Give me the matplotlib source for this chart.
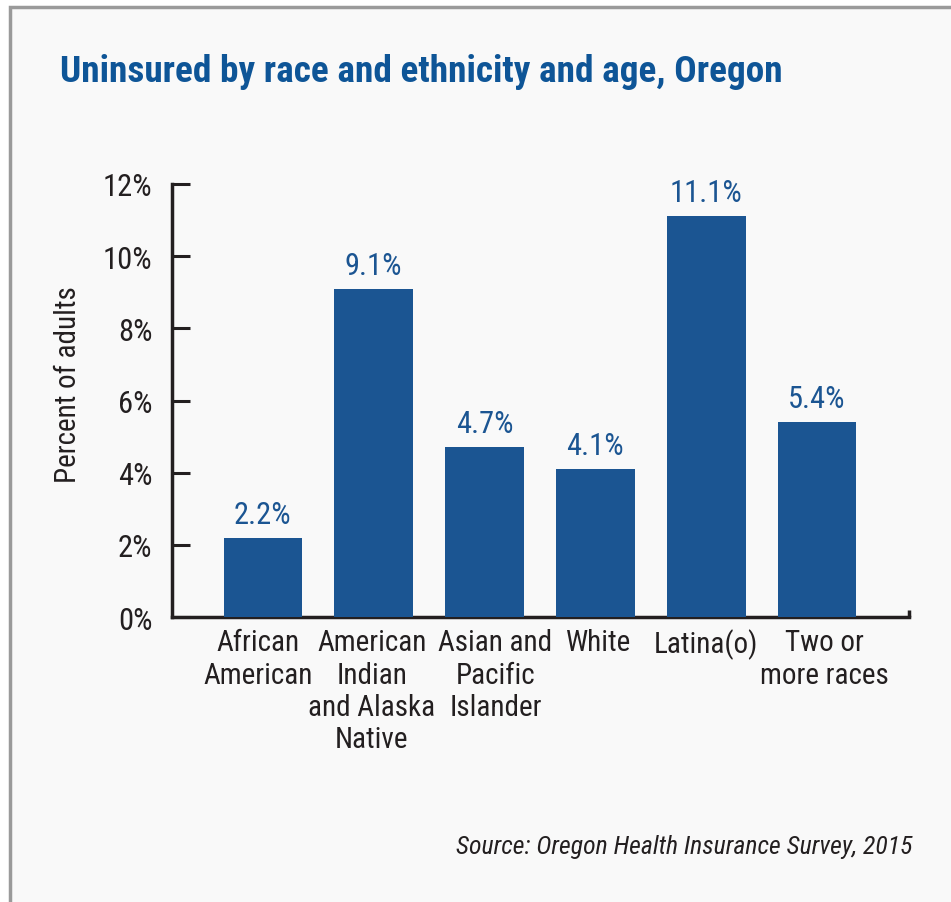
import matplotlib.pyplot as plt
import matplotlib.transforms as mtransforms
from matplotlib.patches import Rectangle
from matplotlib import font_manager

categories = ["African\nAmerican", "American\nIndian\nand Alaska\nNative", "Asian and\nPacific\nIslander",
              "White", "Latina(o)", "Two or\nmore races"]
values = [2.2, 9.1, 4.7, 4.1, 11.1, 5.4]
yticks = [0, 2, 4, 6, 8, 10, 12]
# small horizontal nudges of the category labels (pixels), as in the original
label_shift = [-5, -2, 11, 3, 0, 7]

# pick a narrow sans if one is installed
names = {f.name for f in font_manager.fontManager.ttflist}
font = "DejaVu Sans"
for cand in ["Liberation Sans Narrow", "Roboto Condensed", "Open Sans Condensed", "Noto Sans Condensed"]:
    if cand in names:
        font = cand
        break
plt.rcParams['font.family'] = [font, 'DejaVu Sans']
plt.rcParams['font.stretch'] = 'condensed'

blue = "#1b5592"
title_blue = "#0e5597"
text_c = "#231f20"

fig = plt.figure(figsize=(9.51, 9.03), dpi=100)
fig.patch.set_facecolor("white")
fig.patches.append(Rectangle((10/951, -0.1), 1.2, (903-8)/903 + 0.1, transform=fig.transFigure,
                             facecolor="#f9f9f9", edgecolor="#9a9a9a", linewidth=2.5, zorder=-5))

ax = fig.add_axes([172/951, 1-618/903, (909-172)/951, (618-185)/903])
ax.set_facecolor("none")
x = range(len(values))
ax.bar(x, values, width=0.71, color=blue, zorder=3)
for xi, v in zip(x, values):
    ax.text(xi, v + 0.25, f"{v:.1f}%", ha="center", va="bottom", fontsize=22, color=blue)

ax.set_xlim(-0.82, 5.83)
ax.set_ylim(0, 12)
ax.set_yticks(yticks)
ax.set_yticklabels([f"{t}%" for t in yticks], fontsize=22, color=text_c)
ax.tick_params(axis="y", direction="in", length=13, width=2.2, pad=14, color=text_c)
ax.set_xticks(list(x))
ax.set_xticklabels(categories, fontsize=21, color=text_c, linespacing=1.2, va="top")
ax.tick_params(axis="x", length=0, pad=8)
for lab, dx in zip(ax.get_xticklabels(), label_shift):
    lab.set_transform(lab.get_transform() + mtransforms.ScaledTranslation(dx / 100, 0, fig.dpi_scale_trans))
for s in ["top", "right"]:
    ax.spines[s].set_visible(False)
for s in ["left", "bottom"]:
    ax.spines[s].set_linewidth(2.5)
    ax.spines[s].set_color(text_c)
ax.plot([5.83, 5.83], [0, 0.2], color=text_c, lw=2.5, clip_on=False, solid_capstyle="butt")
ax.set_ylabel("Percent of adults", fontsize=21, color=text_c, labelpad=12)
ax.yaxis.set_label_coords(-0.122, 0.538)

fig.text(60/951, 1-72/903, "Uninsured by race and ethnicity and age, Oregon", fontsize=26.8,
         fontweight="bold", color=title_blue, va="center", ha="left")
fig.text(912/951, 1-847/903, "Source: Oregon Health Insurance Survey, 2015", fontsize=18.5,
         style="italic", color=text_c, ha="right", va="center")

fig.savefig("out.png", dpi=100, facecolor=fig.get_facecolor())
